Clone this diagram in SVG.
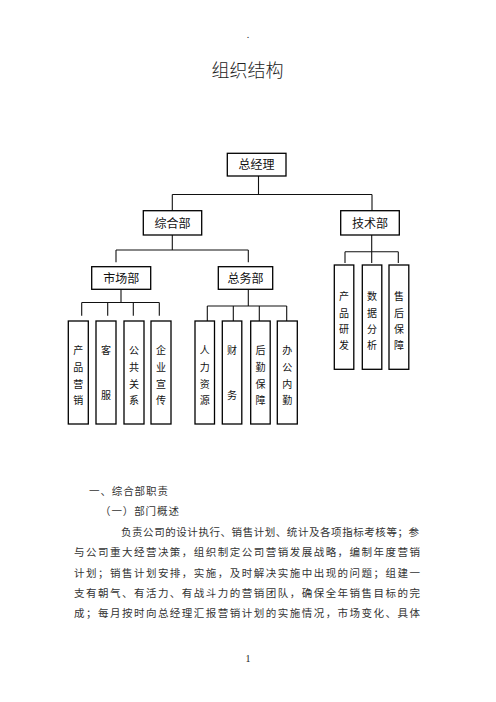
<svg xmlns="http://www.w3.org/2000/svg" width="496" height="702" viewBox="0 0 496 702">
<style>
.bx{fill:#fff;stroke:#000;stroke-width:1.3}
.ln{fill:none;stroke:#111;stroke-width:1.1}
.lb{font-family:"Noto Sans CJK SC","Noto Sans",sans-serif;font-size:12px;fill:#111;text-anchor:middle}
.cl{font-family:"Noto Sans CJK SC","Noto Sans",sans-serif;font-size:10px;fill:#111;text-anchor:middle}
.tt{font-family:"Noto Sans CJK SC","Noto Sans",sans-serif;font-size:18px;fill:#222;text-anchor:middle;font-weight:300}
.pg{font-family:"Noto Sans CJK SC","Noto Sans",sans-serif;font-size:10.5px;fill:#333}
.nm{font-family:"Liberation Serif",serif;font-size:10px;fill:#222;text-anchor:middle}
</style>
<rect width="496" height="702" fill="#fff"/>
<text class="nm" x="248" y="38">.</text>
<text class="tt" x="247.5" y="76.8">组织结构</text>

<g id="connectors">
<path class="ln" d="M258.5,176 V194.5 M172.3,194.5 H372 M172.3,194.5 V211 M372,194.5 V211"/>
<path class="ln" d="M172.3,235 V250 M116,250 H248.3 M116,250 V262.3 M248.3,250 V262.3"/>
<path class="ln" d="M371.7,235 V251.7 M345,251.7 H398.3 M345,251.7 V263 M371.7,251.7 V263 M398.3,251.7 V263"/>
<path class="ln" d="M121,289.3 V302.5 M81.7,302.5 H159.3 M81.7,302.5 V315.7 M107.7,302.5 V315.7 M133.3,302.5 V315.7 M159.3,302.5 V315.7"/>
<path class="ln" d="M248.3,289.3 V306 M207.3,306 H286.7 M207.3,306 V321 M233.3,306 V321 M259.3,306 V321 M286.7,306 V321"/>
</g>

<g id="n-zongjingli"><rect class="bx" x="227.3" y="153.3" width="58.7" height="22.7"/><text class="lb" x="256.6" y="169.3">总经理</text></g>
<g id="n-zonghebu"><rect class="bx" x="143.3" y="210.7" width="58.4" height="24.3"/><text class="lb" x="172.5" y="227.6">综合部</text></g>
<g id="n-jishubu"><rect class="bx" x="340.7" y="210.7" width="58.6" height="24.3"/><text class="lb" x="370" y="227.6">技术部</text></g>
<g id="n-shichangbu"><rect class="bx" x="91.7" y="266.7" width="59" height="22.6"/><text class="lb" x="121.2" y="282.6">市场部</text></g>
<g id="n-zongwubu"><rect class="bx" x="218.3" y="266.7" width="54.4" height="22.6"/><text class="lb" x="245.5" y="282.6">总务部</text></g>

<g id="n-cpyx"><rect class="bx" x="68.3" y="321" width="20" height="103"/><text class="cl"><tspan x="78.3" y="353.8">产</tspan><tspan x="78.3" y="370.8">品</tspan><tspan x="78.3" y="387.8">营</tspan><tspan x="78.3" y="403.8">销</tspan></text></g>
<g id="n-kefu"><rect class="bx" x="96" y="321" width="20" height="103"/><text class="cl"><tspan x="106" y="353.8">客</tspan><tspan x="106" y="398.8">服</tspan></text></g>
<g id="n-ggxg"><rect class="bx" x="124" y="321" width="20" height="103"/><text class="cl"><tspan x="134" y="353.8">公</tspan><tspan x="134" y="370.8">共</tspan><tspan x="134" y="387.8">关</tspan><tspan x="134" y="403.8">系</tspan></text></g>
<g id="n-qyxc"><rect class="bx" x="151" y="321" width="20" height="103"/><text class="cl"><tspan x="161" y="353.8">企</tspan><tspan x="161" y="370.8">业</tspan><tspan x="161" y="387.8">宣</tspan><tspan x="161" y="403.8">传</tspan></text></g>

<g id="n-rlzy"><rect class="bx" x="195" y="321" width="19.5" height="103"/><text class="cl"><tspan x="204.8" y="353.8">人</tspan><tspan x="204.8" y="370.8">力</tspan><tspan x="204.8" y="387.8">资</tspan><tspan x="204.8" y="403.8">源</tspan></text></g>
<g id="n-caiwu"><rect class="bx" x="222.3" y="321" width="19.5" height="103"/><text class="cl"><tspan x="232" y="353.8">财</tspan><tspan x="232" y="398.8">务</tspan></text></g>
<g id="n-hqbz"><rect class="bx" x="250.7" y="321" width="19.5" height="103"/><text class="cl"><tspan x="260.4" y="353.8">后</tspan><tspan x="260.4" y="370.8">勤</tspan><tspan x="260.4" y="387.8">保</tspan><tspan x="260.4" y="403.8">障</tspan></text></g>
<g id="n-bgnq"><rect class="bx" x="277.3" y="321" width="20" height="103"/><text class="cl"><tspan x="287.3" y="353.8">办</tspan><tspan x="287.3" y="370.8">公</tspan><tspan x="287.3" y="387.8">内</tspan><tspan x="287.3" y="403.8">勤</tspan></text></g>

<g id="n-cpyf"><rect class="bx" x="334.3" y="265" width="19.5" height="104.3"/><text class="cl"><tspan x="344" y="299.8">产</tspan><tspan x="344" y="316.8">品</tspan><tspan x="344" y="332.8">研</tspan><tspan x="344" y="348.8">发</tspan></text></g>
<g id="n-sjfx"><rect class="bx" x="362.3" y="265" width="19.5" height="104.3"/><text class="cl"><tspan x="372" y="299.8">数</tspan><tspan x="372" y="316.8">据</tspan><tspan x="372" y="332.8">分</tspan><tspan x="372" y="348.8">析</tspan></text></g>
<g id="n-shbz"><rect class="bx" x="389" y="265" width="19.8" height="104.3"/><text class="cl"><tspan x="398.9" y="299.8">售</tspan><tspan x="398.9" y="316.8">后</tspan><tspan x="398.9" y="332.8">保</tspan><tspan x="398.9" y="348.8">障</tspan></text></g>

<g id="body">
<text class="pg" x="89" y="494.7" letter-spacing="0.9">一、综合部职责</text>
<text class="pg" x="100" y="515" letter-spacing="0.9">（一）部门概述</text>
<text class="pg" x="121" y="535.7" textLength="298" lengthAdjust="spacing">负责公司的设计执行、销售计划、统计及各项指标考核等；参</text>
<text class="pg" x="74" y="556" textLength="346" lengthAdjust="spacing">与公司重大经营决策，组织制定公司营销发展战略，编制年度营销</text>
<text class="pg" x="74" y="576.5" textLength="346" lengthAdjust="spacing">计划；销售计划安排，实施，及时解决实施中出现的问题；组建一</text>
<text class="pg" x="74" y="596.7" textLength="346" lengthAdjust="spacing">支有朝气、有活力、有战斗力的营销团队，确保全年销售目标的完</text>
<text class="pg" x="74" y="616.5" textLength="346" lengthAdjust="spacing">成；每月按时向总经理汇报营销计划的实施情况，市场变化、具体</text>
</g>
<text class="nm" x="248" y="661.5">1</text>
</svg>
